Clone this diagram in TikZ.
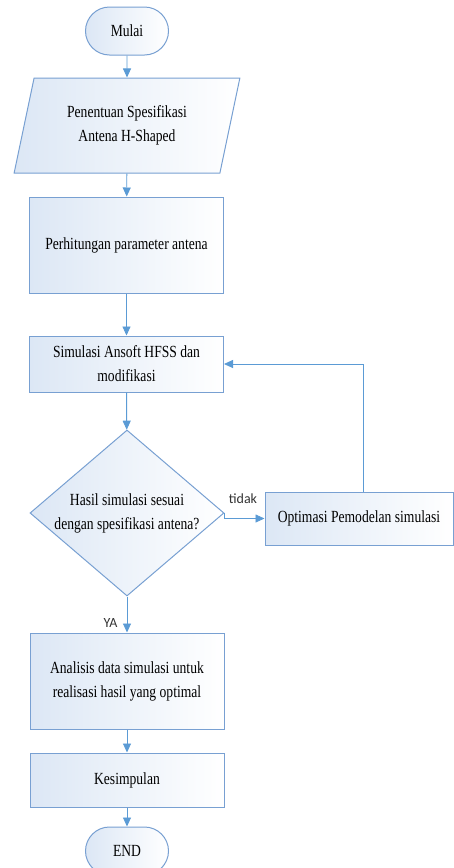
\documentclass[tikz,border=0pt]{standalone}
\usepackage{fontspec}
\setmainfont[FakeStretch=0.8]{Liberation Serif}
\newfontfamily\labelfont{Carlito}
\usetikzlibrary{shapes.geometric,shapes.misc,arrows.meta}
\definecolor{flowblue}{RGB}{91,155,213}
\definecolor{boxedge}{RGB}{120,160,210}
\definecolor{boxfill}{RGB}{220,231,245}
\tikzset{
  box/.style={draw=boxedge, line width=1pt, left color=boxfill, right color=white, align=center, inner sep=0pt, font=\fontsize{17}{24}\selectfont},
  procbox/.style={box, rectangle, minimum width=194pt},
  termbox/.style={box, rounded rectangle, fill=white, minimum width=83pt, minimum height=48pt},
  flow/.style={draw=flowblue, line width=0.9pt, -{Triangle[width=8pt,length=9pt]}},
  tag/.style={font=\labelfont\fontsize{14}{16}\selectfont, text=black!80}
}
\begin{document}
\begin{tikzpicture}[x=1pt,y=-1pt]
\useasboundingbox (0,0) rectangle (454,868);
\node[termbox] (mulai) at (127,31) {Mulai};
\node[box, trapezium, trapezium left angle=72, trapezium right angle=108, trapezium stretches, minimum width=226pt, minimum height=95pt] (spek) at (127,125.5) {Penentuan Spesifikasi\\Antena H-Shaped};
\node[procbox, minimum height=96pt] (hitung) at (126.5,245) {Perhitungan parameter antena};
\node[procbox, minimum height=56pt] (simul) at (126.5,364) {Simulasi Ansoft HFSS dan\\modifikasi};
\node[box, diamond, aspect=1.1687, inner sep=-1pt, minimum width=194pt, minimum height=166pt] (cek) at (127,513) {Hasil simulasi sesuai\\dengan spesifikasi antena?};
\node[box, rectangle, minimum width=188pt, minimum height=53pt] (optim) at (359,518.5) {Optimasi Pemodelan simulasi};
\node[procbox, minimum height=96pt] (analisis) at (127,681) {Analisis data simulasi untuk\\realisasi hasil yang optimal};
\node[procbox, minimum height=54pt] (simpul) at (127,780) {Kesimpulan};
\node[termbox] (selesai) at (127,851) {END};
\draw[flow] (mulai) -- (spek);
\draw[flow] (spek) -- (hitung);
\draw[flow] (hitung) -- (simul);
\draw[flow] (simul) -- (cek);
\draw[flow] (cek.east) |- (optim.west);
\draw[flow] ([xshift=4pt]optim.north) |- (simul.east);
\draw[flow] (cek) -- (analisis);
\draw[flow] (analisis) -- (simpul);
\draw[flow] (simpul) -- (selesai);
\node[tag] (tidak) at (243,499) {tidak};
\node[tag, anchor=east] (ya) at (121,623) {YA};
\end{tikzpicture}
\end{document}
